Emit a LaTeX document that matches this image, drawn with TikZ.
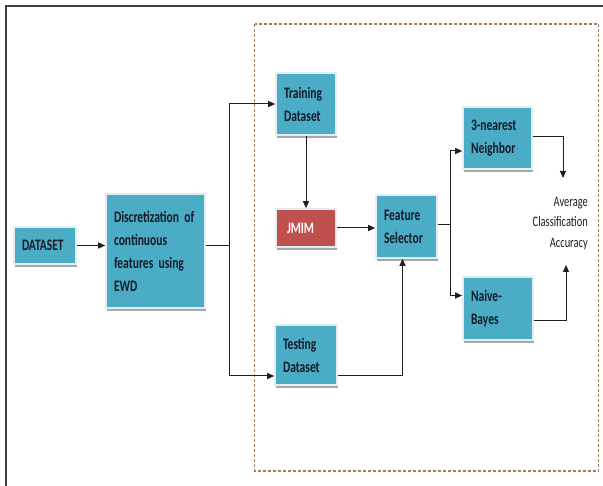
\documentclass[tikz,border=0pt]{standalone}
\usepackage{fontspec}
\setmainfont{Carlito}[FakeStretch=0.72]
\usepackage{xcolor}
\usepackage{tikz}
\usetikzlibrary{arrows.meta,positioning,shadows}
\definecolor{fwAqua}{HTML}{4BACC6}
\definecolor{fwRed}{HTML}{C0504D}
\definecolor{fwInk}{HTML}{151B28}
\definecolor{fwEdge}{HTML}{E4EEF2}
\definecolor{fwShadow}{HTML}{A3A8AD}
\definecolor{fwLine}{HTML}{1E1E1E}
\definecolor{fwGroup}{HTML}{A07E5C}
\tikzset{
  fw diagram/.style={x=1pt, y=-1pt, text=fwInk},
  fw box/.style={draw=fwEdge, fill=fwAqua, line width=1.6pt,
    align=left, inner xsep=8pt, inner ysep=0pt,
    font=\bfseries\fontsize{16}{23}\selectfont,
    drop shadow={shadow xshift=0.8pt, shadow yshift=-2.6pt,
      fill=fwShadow, opacity=1}},
  fw key box/.style={fw box, fill=fwRed, text=white, inner xsep=11pt},
  fw note/.style={align=right, inner sep=0pt,
    font=\fontsize{14.5}{20.5}\selectfont},
  fw line/.style={draw=fwLine, line width=1pt},
  fw arrow/.style={fw line, -{Triangle[length=7pt,width=6pt]}},
  fw frame/.style={draw=fwLine!85, line width=1.4pt},
  fw group/.style={draw=fwGroup, line width=1.2pt, dash pattern=on 3pt off 2pt}
}
\begin{document}
\begin{tikzpicture}[fw diagram]
\useasboundingbox (0,0) rectangle (603,486);
\draw[fw frame] (6,486) -- (6,6) -- (603,6);
\draw[fw group] (254.5,24) rectangle (598.5,471);
\node[fw box, minimum width=62, minimum height=37, text width=46] (dataset) at (45,245.5) {DATASET};
\node[fw box, minimum width=99, minimum height=114, text width=83] (disc) at (155.5,251)
  {Discretization of\\continuous\\features using\\EWD};
\node[fw box, minimum width=60, minimum height=62, text width=44] (train) at (306,104) {Training\\Dataset};
\node[fw key box, minimum width=60, minimum height=38, text width=38] (jmim) at (306,228) {JMIM};
\node[fw box, minimum width=61, minimum height=63, text width=45] (fs) at (406.5,226.5) {Feature\\Selector};
\node[fw box, minimum width=62, minimum height=60, text width=46] (test) at (306,355) {Testing\\Dataset};
\node[fw box, minimum width=69, minimum height=62, text width=53] (knn) at (497.5,138) {3-nearest\\Neighbor};
\node[fw box, minimum width=70, minimum height=63, text width=54] (nb) at (498,308.5) {Naive-\\Bayes};
\node[fw note, anchor=east] (acc) at (588,223.5) {Average\\Classification\\Accuracy};
\coordinate (split) at (229,246);
\coordinate (fork) at (450,225);
\coordinate (accTop) at (563,178);
\coordinate (accBot) at (566,265);
\draw[fw arrow] (dataset.east) -- (dataset.east -| disc.west);
\draw[fw line] (disc.east |- split) -- (split);
\draw[fw arrow] (split) |- (train.west);
\draw[fw arrow] (split) |- ([yshift=-21pt]test.west);
\draw[fw arrow] (train.south) -- (jmim.north);
\draw[fw arrow] (jmim.east) -- (jmim.east -| fs.west);
\draw[fw arrow] ([yshift=-21pt]test.east) -| ([xshift=-4pt]fs.south);
\draw[fw line] (fs.east |- fork) -- (fork);
\draw[fw arrow] (fork) |- ([yshift=-13pt]knn.west);
\draw[fw arrow] (fork) |- ([yshift=13pt]nb.west);
\draw[fw arrow] ([yshift=1pt]knn.east) -| (accTop);
\draw[fw arrow] ([yshift=-12pt]nb.east) -| (accBot);
\end{tikzpicture}
\end{document}
